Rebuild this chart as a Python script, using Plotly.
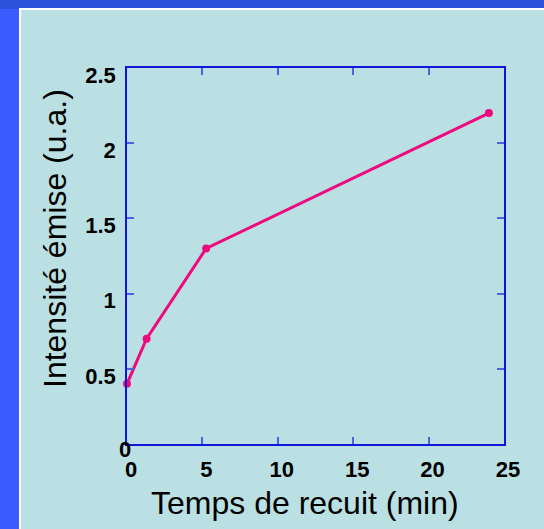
import plotly.graph_objects as go

# Data
temps = [0, 1.3, 5.25, 24]
intensite = [0.4, 0.7, 1.3, 2.2]
x_ticks = [0, 5, 10, 15, 20, 25]
y_ticks = [0.5, 1, 1.5, 2, 2.5]
y_tick_labels = ["0.5", "1", "1.5", "2", "2.5"]

W, H = 544, 529
# plot area in screen pixels
L, R, T, B = 127, 504, 68, 444


def px(x):
    return (x - L) / (R - L)


def py(y):
    return (B - y) / (B - T)


PANEL = "#bae0e3"
AXIS = "#1414d8"
TICK = "#4a64e0"
LINE = "#ee0a7e"
FONT = "Liberation Sans, Arial, sans-serif"

fig = go.Figure()
fig.add_trace(go.Scatter(
    x=temps, y=intensite, mode="lines+markers",
    line=dict(color=LINE, width=3),
    marker=dict(color=LINE, size=8),
    showlegend=False, cliponaxis=False, hoverinfo="skip",
))

tickfont = dict(family=FONT, size=22, color="black", weight="bold")

fig.update_layout(
    width=W, height=H,
    margin=dict(l=L, r=W - R, t=T, b=H - B, pad=0),
    paper_bgcolor="#2c50dc",
    plot_bgcolor=PANEL,
    xaxis=dict(
        range=[0, 25], tickvals=x_ticks, ticktext=[str(v) for v in x_ticks],
        showgrid=False, zeroline=False,
        showline=True, linecolor=AXIS, linewidth=1.5, mirror="ticks",
        ticks="inside", ticklen=7, tickwidth=1.5, tickcolor=TICK,
        tickfont=tickfont, ticklabelstandoff=5, ticklabelshift=4,
    ),
    yaxis=dict(
        range=[0, 2.5], tickvals=y_ticks, ticktext=y_tick_labels,
        showgrid=False, zeroline=False,
        showline=True, linecolor=AXIS, linewidth=1.5, mirror="ticks",
        ticks="inside", ticklen=7, tickwidth=1.5, tickcolor=TICK,
        tickfont=tickfont, ticklabelstandoff=5, ticklabelshift=7,
    ),
    shapes=[
        dict(type="rect", xref="paper", yref="paper", layer="below",
             x0=px(0), x1=px(20), y0=py(H + 20), y1=py(9),
             fillcolor="#3a5cff", line=dict(width=0)),
        dict(type="rect", xref="paper", yref="paper", layer="below",
             x0=px(20), x1=px(W + 20), y0=py(H + 20), y1=py(9),
             fillcolor=PANEL, line=dict(color="white", width=2)),
    ],
    annotations=[
        dict(text="0", xref="x", yref="y", x=0, y=0, xshift=-2, yshift=-5,
             showarrow=False, font=tickfont, xanchor="center", yanchor="middle"),
        dict(text="Temps de recuit (min)", xref="paper", yref="paper",
             x=px(305), y=py(503), showarrow=False, xanchor="center", yanchor="middle",
             font=dict(family=FONT, size=32, color="black")),
        dict(text="Intensité émise (u.a.)", xref="paper", yref="paper",
             x=px(55), y=py(239), showarrow=False, xanchor="center", yanchor="middle",
             textangle=-90, font=dict(family=FONT, size=32, color="black")),
    ],
)

fig.write_html("out.html", config={"displayModeBar": False},
               post_script="document.body.style.margin='0px';")
